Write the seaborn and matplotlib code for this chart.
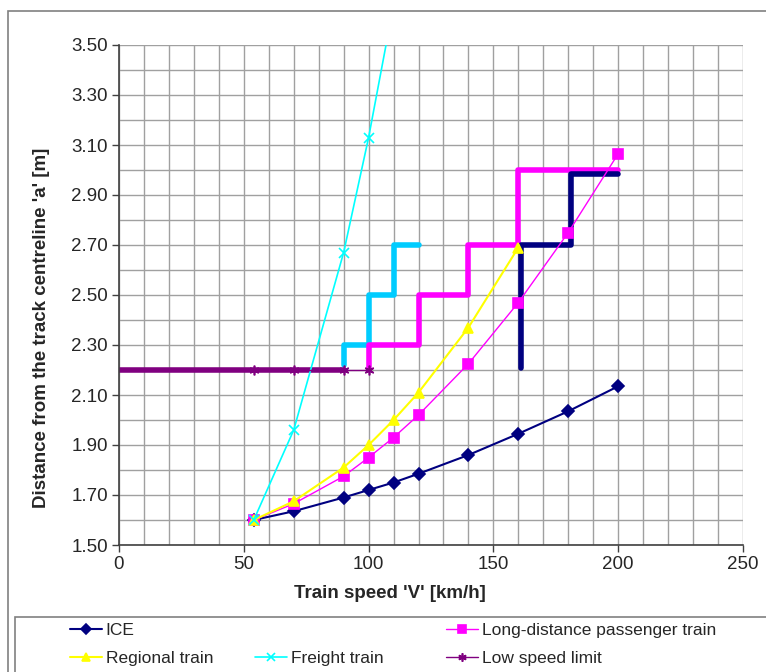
import matplotlib
matplotlib.use("Agg")
import matplotlib.pyplot as plt
import matplotlib.ticker as mtick
import numpy as np
import seaborn as sns
from matplotlib.lines import Line2D
from matplotlib.patches import Rectangle

sns.set_theme(style="white")
plt.rcParams['font.family'] = ['Liberation Sans', 'DejaVu Sans']

# series (speed in km/h, distance in m)
ice_v = [54, 70, 90, 100, 110, 120, 140, 160, 180, 200]
ice_a = [1.60, 1.635, 1.69, 1.72, 1.75, 1.785, 1.86, 1.945, 2.035, 2.135]

ldp_v = [54, 70, 90, 100, 110, 120, 140, 160, 180, 200]
ldp_a = [1.60, 1.665, 1.775, 1.85, 1.93, 2.02, 2.225, 2.47, 2.75, 3.065]

reg_v = [54, 70, 90, 100, 110, 120, 140, 160]
reg_a = [1.60, 1.675, 1.81, 1.90, 2.00, 2.11, 2.37, 2.69]

frt_v = [54, 70, 90, 100, 110]
frt_a = [1.60, 1.96, 2.67, 3.13, 3.66]

low_v = [54, 70, 90, 100]
low_a = [2.20, 2.20, 2.20, 2.20]
low_band_v = [0, 90]
low_band_a = [2.20, 2.20]

# stepped limit lines (steps-post)
step_frt_v = [90, 90, 100, 110, 120]
step_frt_a = [2.22, 2.30, 2.50, 2.70, 2.70]
step_ldp_v = [100, 100, 120, 140, 160, 200]
step_ldp_a = [2.20, 2.30, 2.50, 2.70, 3.00, 3.00]
step_ice_v = [161, 161, 181, 200]
step_ice_a = [2.21, 2.70, 2.985, 2.985]

NAVY = '#000080'
MAGENTA = '#FF00FF'
YELLOW = '#FFFF00'
CYAN = '#00FFFF'
SKY = '#00CCFF'
PURPLE = '#800080'
ASTER = (6, 2, 0)

fig = plt.figure(figsize=(7.66, 6.72), dpi=100)
ax = fig.add_axes([119/766, 127/672, 624/766, 500/672])

# thick limit steps go underneath
sns.lineplot(x=step_frt_v, y=step_frt_a, ax=ax, color=SKY, linewidth=4,
             drawstyle='steps-post', sort=False, estimator=None)
sns.lineplot(x=step_ldp_v, y=step_ldp_a, ax=ax, color=MAGENTA, linewidth=4,
             drawstyle='steps-post', sort=False, estimator=None)
sns.lineplot(x=step_ice_v, y=step_ice_a, ax=ax, color=NAVY, linewidth=4,
             drawstyle='steps-post', sort=False, estimator=None)
sns.lineplot(x=low_band_v, y=low_band_a, ax=ax, color=PURPLE, linewidth=4,
             sort=False, estimator=None)

styles = [
    ('ICE', ice_v, ice_a, NAVY, 'D', 6, 1.5),
    ('Long-distance passenger train', ldp_v, ldp_a, MAGENTA, 's', 6.5, 1.0),
    ('Regional train', reg_v, reg_a, YELLOW, '^', 7, 1.5),
    ('Freight train', frt_v, frt_a, CYAN, 'x', 7, 1.2),
    ('Low speed limit', low_v, low_a, PURPLE, ASTER, 7, 1.0),
]
handles = {'': Line2D([], [], linestyle='none')}
for name, v, a, col, mk, ms, lw in styles:
    sns.lineplot(x=v, y=a, ax=ax, color=col, marker=mk, markersize=ms,
                 markeredgecolor=col, markeredgewidth=1.2, linewidth=lw,
                 sort=False, estimator=None)
    handles[name] = Line2D([], [], color=col, marker=mk, markersize=ms - 1,
                           markeredgecolor=col, markeredgewidth=1.2, linewidth=lw)

ax.set_xlim(0, 250)
ax.set_ylim(1.5, 3.5)
ax.xaxis.set_major_locator(mtick.MultipleLocator(50))
ax.xaxis.set_minor_locator(mtick.MultipleLocator(10))
ax.yaxis.set_major_locator(mtick.MultipleLocator(0.2, offset=0.1))
ax.yaxis.set_minor_locator(mtick.MultipleLocator(0.1))
ax.yaxis.set_major_formatter(mtick.FormatStrFormatter('%.2f'))
ax.grid(which='both', color='#a0a0a0', linewidth=1.0)
ax.set_axisbelow(True)
ax.tick_params(which='major', direction='out', length=5, width=1, color='#404040',
               labelsize=13.5, pad=3, bottom=True, left=True)
ax.tick_params(which='minor', length=0)
for s in ['top', 'right']:
    ax.spines[s].set_visible(False)
for s in ['left', 'bottom']:
    ax.spines[s].set_color('#404040')
    ax.spines[s].set_linewidth(1.2)

ax.set_xlabel("Train speed 'V' [km/h]", fontsize=13.5, fontweight='bold')
ax.set_ylabel("Distance from the track centreline 'a' [m]", fontsize=13.5,
              fontweight='bold')
ax.xaxis.set_label_coords((390 - 119) / 624, -0.08)
ax.yaxis.set_label_coords(-0.11, 0.435)

# outer chart border and legend box
fig.patches.append(Rectangle((8/766, -0.05), 1.0, 1.05 - 11/672, transform=fig.transFigure,
                             fill=False, edgecolor='#808080', linewidth=1.2))
fig.patches.append(Rectangle((15/766, -0.05), 1.0, 0.05 + 55/672, transform=fig.transFigure,
                             fill=False, edgecolor='#808080', linewidth=1.2))

cols = [
    (70, ['ICE', 'Regional train']),
    (255, ['', 'Freight train']),
    (446, ['Long-distance passenger train', 'Low speed limit']),
]
for x0, names in cols:
    fig.legend([handles[n] for n in names], names, loc='upper left',
               bbox_to_anchor=(x0/766, (672 - 623)/672),
               frameon=False, fontsize=12.5, borderpad=0, borderaxespad=0,
               handlelength=1.85, handletextpad=0.2, labelspacing=0.74)

fig.savefig('out.png', dpi=100)
